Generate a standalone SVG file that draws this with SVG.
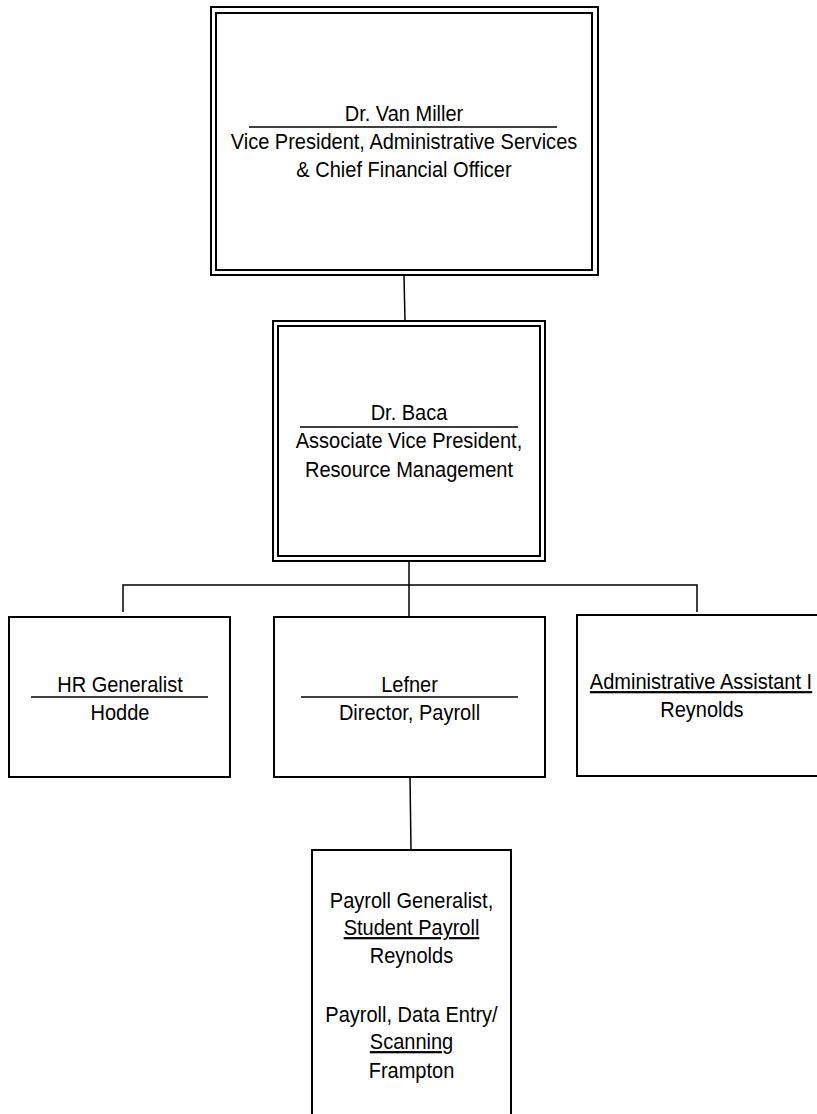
<svg xmlns="http://www.w3.org/2000/svg" width="817" height="1114" viewBox="0 0 817 1114">
<style>
  .box { fill: #fff; stroke: #000; stroke-width: 2; }
  .box2 { fill: none; stroke: #000; stroke-width: 2; }
  .conn { fill: none; stroke: #000; stroke-width: 1.5; }
  .rule { stroke: #000; stroke-width: 1.5; }
  text { font-family: "Liberation Sans", Arial, sans-serif; font-size: 22px; fill: #000; text-anchor: middle; }
  .u { text-decoration: underline; }
</style>
<rect width="817" height="1114" fill="#fff"/>
<g id="connectors">
  <line class="conn" x1="404" y1="276" x2="405" y2="321"/>
  <line class="conn" x1="409" y1="561" x2="409" y2="617"/>
  <polyline class="conn" points="123,612 123,585 697,585 697,612"/>
  <line class="conn" x1="410" y1="777" x2="411" y2="850"/>
</g>
<g id="vp">
  <rect class="box" x="211" y="7" width="387" height="268"/>
  <rect class="box2" x="216" y="13" width="376" height="257"/>
  <line class="rule" x1="249" y1="127" x2="557" y2="127"/>
  <g transform="translate(404 0) scale(0.91 1)">
    <text x="0" y="121">Dr. Van Miller</text>
    <text x="0" y="149">Vice President, Administrative Services</text>
    <text x="0" y="177">&amp; Chief Financial Officer</text>
  </g>
</g>
<g id="avp">
  <rect class="box" x="273" y="321" width="272" height="240"/>
  <rect class="box2" x="278" y="326" width="262" height="230"/>
  <line class="rule" x1="300" y1="427" x2="518" y2="427"/>
  <g transform="translate(409 0) scale(0.91 1)">
    <text x="0" y="420">Dr. Baca</text>
    <text x="0" y="448">Associate Vice President,</text>
    <text x="0" y="477">Resource Management</text>
  </g>
</g>
<g id="hr">
  <rect class="box" x="9" y="617" width="221" height="160"/>
  <line class="rule" x1="31" y1="697" x2="208" y2="697"/>
  <g transform="translate(120 0) scale(0.91 1)">
    <text x="0" y="692">HR Generalist</text>
    <text x="0" y="720">Hodde</text>
  </g>
</g>
<g id="lefner">
  <rect class="box" x="274" y="617" width="271" height="160"/>
  <line class="rule" x1="301" y1="697" x2="518" y2="697"/>
  <g transform="translate(409.5 0) scale(0.91 1)">
    <text x="0" y="692">Lefner</text>
    <text x="0" y="720">Director, Payroll</text>
  </g>
</g>
<g id="admin">
  <rect class="box" x="577" y="615" width="250" height="161"/>
  <g transform="translate(701 0) scale(0.91 1)">
    <text class="u" x="0" y="689">Administrative Assistant I</text>
    <text x="1" y="717">Reynolds</text>
  </g>
</g>
<g id="payroll">
  <rect class="box" x="312" y="850" width="199" height="280"/>
  <g transform="translate(411.5 0) scale(0.91 1)">
    <text x="0" y="908">Payroll Generalist,</text>
    <text class="u" x="0" y="935">Student Payroll</text>
    <text x="0" y="963">Reynolds</text>
    <text x="0" y="1022">Payroll, Data Entry/</text>
    <text class="u" x="0" y="1049">Scanning</text>
    <text x="0" y="1078">Frampton</text>
  </g>
</g>
</svg>
